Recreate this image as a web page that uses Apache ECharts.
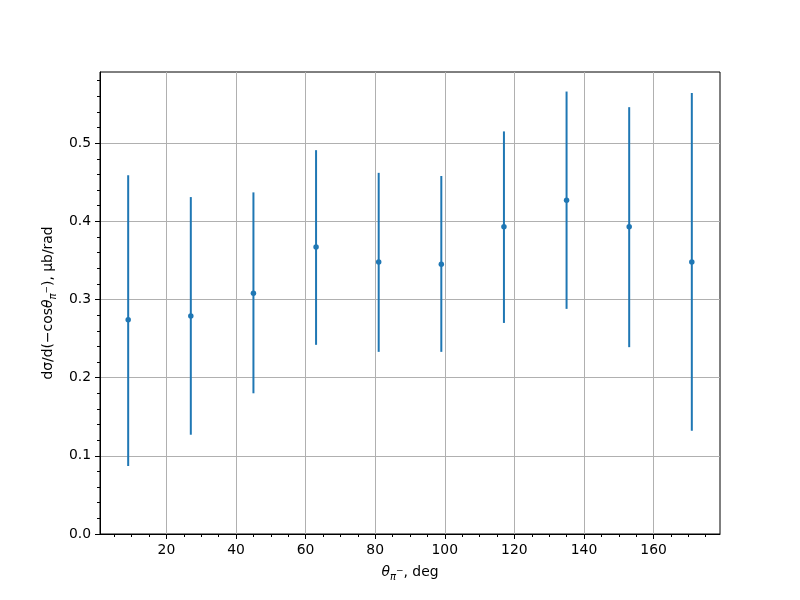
<!DOCTYPE html>
<html><head><meta charset="utf-8">
<script src="https://cdn.jsdelivr.net/npm/echarts@6/dist/echarts.min.js"></script>
<style>html,body{margin:0;padding:0;background:#fff}#c{width:800px;height:600px}</style>
</head><body><div id="c"></div>
<script>
const angles = [9, 27, 45, 63, 81, 99, 117, 135, 153, 171];
const values = [0.274, 0.279, 0.308, 0.367, 0.348, 0.345, 0.393, 0.427, 0.393, 0.348];
const lowBounds = [0.087, 0.127, 0.180, 0.242, 0.233, 0.233, 0.270, 0.288, 0.239, 0.132];
const highBounds = [0.459, 0.431, 0.437, 0.491, 0.462, 0.458, 0.515, 0.566, 0.546, 0.564];
const xTicks = [20, 40, 60, 80, 100, 120, 140, 160];
const xMinorTicks = [5, 10, 15, 25, 30, 35, 45, 50, 55, 65, 70, 75, 85, 90, 95, 105, 110, 115, 125, 130, 135, 145, 150, 155, 165, 170, 175];
const yTicks = [0, 0.1, 0.2, 0.3, 0.4, 0.5];
const yMinorTicks = [0.02, 0.04, 0.06, 0.08, 0.12, 0.14, 0.16, 0.18, 0.22, 0.24, 0.26, 0.28, 0.32, 0.34, 0.36, 0.38, 0.42, 0.44, 0.46, 0.48, 0.52, 0.54, 0.56, 0.58];
const xRange = [0.9, 179.1];
const yRange = [0, 0.591];

const FONT = 'DejaVu Sans';
const FS = 13.9;
const BLUE = '#1f77b4';

const chart = echarts.init(document.getElementById('c'), null, {renderer: 'canvas'});

const rich = {
  n: {fontFamily: FONT, fontSize: FS, color: '#000', lineHeight: 20, verticalAlign: 'middle'},
  th: {fontFamily: FONT, fontSize: FS, fontStyle: 'italic', color: '#000', lineHeight: 20, verticalAlign: 'middle'},
  sub: {fontFamily: FONT, fontSize: 10, fontStyle: 'italic', color: '#000', lineHeight: 12, verticalAlign: 'bottom'},
  sup: {fontFamily: FONT, fontSize: 9, color: '#000', lineHeight: 12, verticalAlign: 'middle', padding: [0, 0, 3, 0]}
};

const commonMain = {
  axisLine: {show: true, onZero: false, lineStyle: {color: '#000', width: 1}},
  axisTick: {show: true, length: 5, lineStyle: {color: '#000', width: 1}},
  axisLabel: {fontFamily: FONT, fontSize: FS, color: '#000', margin: 9},
  splitLine: {show: true, lineStyle: {color: '#b0b0b0', width: 1}}
};

const option = {
  animation: false,
  backgroundColor: '#fff',
  grid: {left: 100, right: 80, top: 72, bottom: 66, show: true, borderColor: '#000', borderWidth: 1, backgroundColor: 'transparent', containLabel: false},
  xAxis: [
    Object.assign({}, commonMain, {
      type: 'value', min: xRange[0], max: xRange[1], position: 'bottom',
      axisTick: Object.assign({}, commonMain.axisTick, {customValues: xTicks}),
      axisLabel: Object.assign({}, commonMain.axisLabel, {customValues: xTicks, formatter: v => String(Math.round(v))}),
      name: '{th|θ}{sub|π}{sup|−}{n|, deg}',
      nameLocation: 'middle', nameGap: 28,
      nameTextStyle: {rich: rich}
    }),
    {
      type: 'value', min: xRange[0], max: xRange[1], position: 'bottom',
      axisLine: {show: false},
      axisTick: {show: true, length: 3, customValues: xMinorTicks, lineStyle: {color: '#000', width: 1}},
      axisLabel: {show: false},
      splitLine: {show: false}
    }
  ],
  yAxis: [
    Object.assign({}, commonMain, {
      type: 'value', min: yRange[0], max: yRange[1], position: 'left',
      axisTick: Object.assign({}, commonMain.axisTick, {customValues: yTicks}),
      axisLabel: Object.assign({}, commonMain.axisLabel, {customValues: yTicks, formatter: v => v.toFixed(1)}),
      name: '{n|dσ/d(−cos}{th|θ}{sub|π}{sup|−}{n|), μb/rad}',
      nameLocation: 'middle', nameGap: 36, nameRotate: 90,
      nameTextStyle: {rich: rich}
    }),
    {
      type: 'value', min: yRange[0], max: yRange[1], position: 'left',
      axisLine: {show: false},
      axisTick: {show: true, length: 3, customValues: yMinorTicks, lineStyle: {color: '#000', width: 1}},
      axisLabel: {show: false},
      splitLine: {show: false}
    }
  ],
  series: [
    {
      type: 'custom',
      xAxisIndex: 0, yAxisIndex: 0,
      data: angles.map((a, i) => [a, lowBounds[i], highBounds[i]]),
      encode: {x: 0, y: [1, 2]},
      renderItem: function (params, api) {
        const p1 = api.coord([api.value(0), api.value(1)]);
        const p2 = api.coord([api.value(0), api.value(2)]);
        return {
          type: 'line',
          shape: {x1: p1[0], y1: p1[1], x2: p2[0], y2: p2[1]},
          style: {stroke: BLUE, lineWidth: 2}
        };
      },
      z: 3
    },
    {
      type: 'scatter',
      xAxisIndex: 0, yAxisIndex: 0,
      data: angles.map((a, i) => [a, values[i]]),
      symbol: 'circle', symbolSize: 5.5,
      itemStyle: {color: BLUE, opacity: 1},
      z: 4
    }
  ]
};
chart.setOption(option);
</script>
</body></html>
